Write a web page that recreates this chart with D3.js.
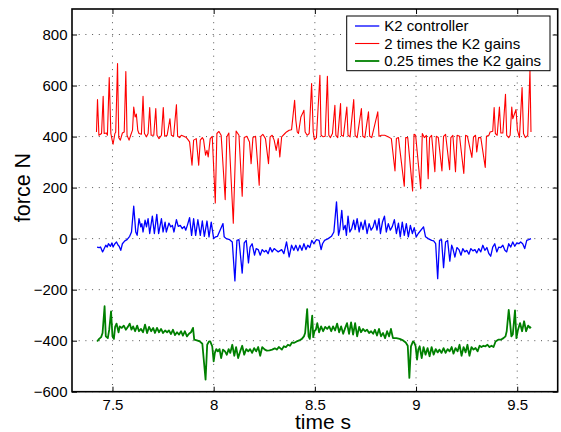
<!DOCTYPE html>
<html>
<head>
<meta charset="utf-8">
<script src="https://cdn.jsdelivr.net/npm/d3@7"></script>
<style>
  body { margin: 0; background: #fff; }
  svg { display: block; }
  text { font-family: "Liberation Sans", Arial, Helvetica, sans-serif; fill: #000; }
</style>
</head>
<body>
<svg id="chart" width="561" height="432"></svg>
<script>
// ---- data ----
const xTicks = [7.5, 8, 8.5, 9, 9.5];
const yTicks = [-600, -400, -200, 0, 200, 400, 600, 800];
const legendLabels = ["K2 controller", "2 times the K2 gains", "0.25 times the K2 gains"];

// K2 controller (blue)
const k2Time = [7.424,7.434,7.441,7.451,7.457,7.467,7.474,7.480,7.490,7.497,7.503,7.510,7.520,7.528,7.533,7.541,7.549,7.561,7.572,7.585,7.594,7.605,7.615,7.622,7.631,7.640,7.645,7.651,7.661,7.668,7.676,7.684,7.697,7.707,7.719,7.728,7.742,7.750,7.760,7.766,7.779,7.788,7.796,7.804,7.816,7.825,7.835,7.845,7.855,7.862,7.870,7.881,7.891,7.901,7.911,7.922,7.934,7.944,7.954,7.967,7.977,7.988,8.000,8.010,8.019,8.046,8.052,8.062,8.079,8.092,8.105,8.115,8.125,8.141,8.151,8.161,8.172,8.180,8.190,8.202,8.210,8.220,8.230,8.240,8.250,8.259,8.269,8.279,8.289,8.299,8.309,8.319,8.336,8.347,8.360,8.373,8.385,8.396,8.406,8.416,8.426,8.436,8.446,8.456,8.465,8.475,8.485,8.495,8.508,8.521,8.531,8.538,8.548,8.566,8.582,8.594,8.607,8.617,8.623,8.633,8.641,8.650,8.656,8.664,8.673,8.682,8.692,8.699,8.709,8.719,8.728,8.738,8.748,8.758,8.768,8.778,8.788,8.797,8.807,8.817,8.824,8.834,8.844,8.853,8.863,8.873,8.883,8.893,8.903,8.913,8.922,8.932,8.942,8.952,8.962,8.972,8.982,8.991,9.001,9.011,9.037,9.047,9.060,9.077,9.087,9.097,9.107,9.116,9.126,9.136,9.146,9.156,9.167,9.176,9.182,9.192,9.202,9.212,9.222,9.231,9.241,9.251,9.261,9.271,9.281,9.291,9.300,9.310,9.320,9.330,9.340,9.350,9.360,9.369,9.379,9.389,9.399,9.409,9.419,9.429,9.439,9.448,9.458,9.468,9.478,9.488,9.498,9.508,9.517,9.527,9.537,9.547,9.557,9.568];
const k2Force = [-33,-35,-33,-52,-43,-26,-33,-20,-30,-17,-33,-22,-13,-26,-30,-46,-20,-9,-4,9,26,127,26,13,78,46,59,26,72,46,78,20,88,20,95,20,78,26,65,26,61,46,52,26,74,48,52,39,48,33,52,82,13,78,13,74,13,69,9,69,7,65,0,7,9,59,7,0,-4,-13,-166,-7,-4,-135,-17,-7,-95,-33,-20,-65,-39,-43,-65,-43,-52,-46,-59,-35,-52,-39,-46,-52,-43,-59,-13,-72,-26,-46,-26,-48,-26,-46,-20,-43,-26,-35,-7,-20,-4,-7,-43,-20,-7,0,9,26,144,13,33,111,35,52,13,88,26,39,72,35,78,26,65,35,72,20,59,33,46,72,33,78,20,65,88,26,59,33,48,74,20,61,7,65,13,59,7,52,20,43,7,20,46,7,0,-7,-9,-20,-157,-7,-4,-114,-13,-7,-88,-26,-39,-72,-35,-43,-65,-39,-52,-46,-61,-39,-48,-43,-56,-39,-52,-26,-46,-35,-59,-69,-33,-20,-52,-33,-35,-26,-46,-52,-20,-33,-13,-30,-17,-20,-13,-20,-39,-7,-4,0];

// 2 times the K2 gains (red)
const k2x2Time = [7.421,7.426,7.433,7.446,7.454,7.459,7.470,7.475,7.484,7.492,7.498,7.503,7.512,7.516,7.525,7.531,7.539,7.549,7.558,7.566,7.572,7.582,7.590,7.599,7.605,7.612,7.618,7.625,7.631,7.643,7.651,7.658,7.668,7.676,7.684,7.691,7.704,7.714,7.720,7.730,7.742,7.751,7.758,7.770,7.784,7.791,7.802,7.816,7.822,7.832,7.840,7.852,7.865,7.873,7.881,7.893,7.901,7.914,7.926,7.934,7.944,7.950,7.960,7.967,7.973,7.983,7.993,8.008,8.016,8.026,8.037,8.057,8.065,8.075,8.097,8.111,8.125,8.141,8.151,8.164,8.177,8.185,8.194,8.207,8.225,8.233,8.243,8.256,8.271,8.279,8.289,8.299,8.309,8.319,8.327,8.336,8.352,8.360,8.373,8.385,8.400,8.406,8.413,8.419,8.431,8.439,8.446,8.452,8.462,8.472,8.484,8.492,8.498,8.508,8.525,8.531,8.541,8.551,8.562,8.569,8.577,8.587,8.599,8.604,8.613,8.627,8.631,8.641,8.658,8.664,8.674,8.692,8.699,8.709,8.730,8.737,8.747,8.765,8.771,8.781,8.811,8.817,8.829,8.845,8.862,8.878,8.896,8.903,8.913,8.942,8.949,8.959,8.983,8.990,8.998,9.023,9.031,9.041,9.051,9.060,9.067,9.077,9.093,9.100,9.110,9.128,9.136,9.146,9.166,9.172,9.182,9.195,9.203,9.215,9.236,9.245,9.254,9.276,9.284,9.294,9.300,9.309,9.320,9.342,9.348,9.360,9.366,9.379,9.386,9.392,9.401,9.412,9.419,9.429,9.442,9.448,9.458,9.465,9.473,9.478,9.494,9.501,9.511,9.524,9.531,9.540,9.552,9.563,9.568];
const k2x2Force = [418,545,405,412,558,412,414,405,631,412,388,370,412,417,686,396,386,414,418,655,405,386,405,425,516,477,488,425,412,409,558,412,399,412,514,405,405,510,405,392,405,514,401,405,470,405,401,525,401,396,405,401,396,388,379,288,386,392,288,386,396,388,327,346,320,392,401,140,412,420,405,153,399,414,60,422,405,166,396,401,379,294,396,401,209,401,409,392,294,399,405,386,346,392,320,399,412,418,425,427,542,464,418,412,477,490,503,418,405,412,608,418,388,396,640,405,399,401,636,405,396,412,523,405,396,529,405,401,516,405,399,545,405,396,510,401,396,497,401,396,497,401,405,405,399,392,265,392,396,205,396,396,187,409,405,196,412,396,405,235,396,405,262,401,396,265,401,409,270,396,405,262,405,401,255,405,401,318,399,405,340,396,396,279,401,405,418,421,514,412,405,516,414,414,566,405,396,405,516,470,506,425,396,592,412,396,405,660,418];

// 0.25 times the K2 gains (green)
const k2q4Time = [7.424,7.434,7.444,7.451,7.461,7.467,7.477,7.484,7.493,7.500,7.507,7.513,7.520,7.530,7.536,7.546,7.556,7.566,7.576,7.585,7.594,7.602,7.612,7.622,7.631,7.641,7.651,7.661,7.671,7.681,7.691,7.701,7.710,7.720,7.730,7.740,7.750,7.760,7.770,7.779,7.789,7.799,7.809,7.819,7.829,7.839,7.848,7.858,7.868,7.878,7.888,7.898,7.904,7.917,7.931,7.944,7.960,7.968,7.977,7.983,7.993,8.000,8.006,8.013,8.021,8.029,8.037,8.046,8.056,8.065,8.074,8.082,8.092,8.102,8.111,8.121,8.131,8.141,8.151,8.161,8.171,8.180,8.190,8.200,8.210,8.220,8.230,8.240,8.253,8.263,8.276,8.289,8.302,8.312,8.322,8.337,8.347,8.357,8.367,8.377,8.387,8.396,8.410,8.423,8.436,8.446,8.452,8.462,8.469,8.475,8.487,8.492,8.498,8.505,8.512,8.521,8.531,8.541,8.551,8.561,8.571,8.581,8.590,8.600,8.610,8.620,8.630,8.640,8.650,8.659,8.669,8.679,8.689,8.699,8.709,8.719,8.728,8.738,8.748,8.758,8.768,8.778,8.788,8.797,8.807,8.817,8.827,8.837,8.847,8.857,8.867,8.876,8.886,8.903,8.919,8.936,8.949,8.959,8.967,8.975,8.985,8.991,8.998,9.005,9.011,9.018,9.028,9.037,9.047,9.057,9.067,9.077,9.087,9.097,9.107,9.116,9.126,9.136,9.146,9.156,9.166,9.176,9.185,9.195,9.205,9.215,9.225,9.235,9.245,9.254,9.264,9.274,9.284,9.294,9.304,9.314,9.323,9.333,9.343,9.353,9.363,9.373,9.383,9.393,9.406,9.419,9.432,9.442,9.448,9.458,9.465,9.471,9.478,9.489,9.496,9.504,9.514,9.524,9.534,9.544,9.554,9.563,9.568];
const k2q4Force = [-403,-393,-386,-370,-265,-383,-390,-357,-285,-383,-393,-346,-333,-367,-344,-350,-341,-357,-346,-333,-357,-344,-363,-341,-363,-354,-367,-337,-370,-346,-363,-350,-370,-350,-367,-354,-370,-360,-367,-360,-374,-357,-378,-367,-376,-363,-380,-363,-383,-373,-367,-350,-396,-399,-403,-412,-553,-416,-403,-403,-422,-481,-448,-433,-442,-433,-468,-435,-442,-455,-433,-448,-416,-459,-425,-468,-442,-420,-455,-433,-442,-433,-448,-429,-442,-425,-459,-425,-435,-439,-438,-435,-430,-435,-425,-435,-422,-425,-416,-420,-407,-409,-403,-399,-393,-383,-370,-276,-383,-393,-302,-386,-363,-357,-331,-367,-344,-363,-346,-354,-344,-363,-344,-360,-333,-367,-344,-373,-350,-331,-373,-328,-376,-331,-383,-346,-367,-354,-363,-357,-370,-363,-373,-357,-380,-354,-383,-370,-390,-363,-383,-354,-390,-390,-393,-399,-407,-420,-546,-422,-403,-407,-422,-474,-435,-422,-468,-425,-455,-429,-461,-425,-455,-433,-446,-435,-448,-429,-448,-433,-442,-425,-451,-429,-442,-416,-459,-425,-446,-416,-459,-425,-435,-429,-442,-420,-425,-420,-422,-416,-425,-420,-425,-403,-396,-396,-390,-383,-363,-279,-331,-383,-376,-281,-390,-357,-331,-363,-324,-363,-341,-350,-346];

const series = [
  { name: legendLabels[0], time: k2Time, force: k2Force, color: "#0000ff", width: 1.3 },
  { name: legendLabels[1], time: k2x2Time, force: k2x2Force, color: "#ff0000", width: 1.1 },
  { name: legendLabels[2], time: k2q4Time, force: k2q4Force, color: "#008000", width: 1.8 }
];

// ---- layout ----
const margin = { left: 72, right: 3.3, top: 9, bottom: 40.3 };
const width = 561, height = 432;
const svg = d3.select("#chart");

const x = d3.scaleLinear().domain([7.3, 9.7]).range([margin.left, width - margin.right]);
const y = d3.scaleLinear().domain([-600, 900]).range([height - margin.bottom, margin.top]);
const [x0, x1] = x.range();
const [y0, y1] = y.range();

svg.append("rect").attr("width", width).attr("height", height).attr("fill", "#fff");

svg.append("defs").append("clipPath").attr("id", "plotArea")
  .append("rect").attr("x", x0).attr("y", y1).attr("width", x1 - x0).attr("height", y0 - y1);

// dotted grid
const grid = svg.append("g")
  .attr("stroke", "#555").attr("stroke-width", 1).attr("stroke-dasharray", "1,5.7");
grid.selectAll("line.gx").data(xTicks).join("line").attr("class", "gx")
  .attr("x1", d => x(d)).attr("x2", d => x(d)).attr("y1", y0).attr("y2", y1);
grid.selectAll("line.gy").data(yTicks).join("line").attr("class", "gy")
  .attr("y1", d => y(d)).attr("y2", d => y(d)).attr("x1", x0).attr("x2", x1);

// data lines
const plot = svg.append("g").attr("clip-path", "url(#plotArea)");
series.forEach(s => {
  const line = d3.line().x(i => x(s.time[i])).y(i => y(s.force[i]));
  plot.append("path")
    .attr("d", line(d3.range(s.time.length)))
    .attr("fill", "none")
    .attr("stroke", s.color)
    .attr("stroke-width", s.width)
    .attr("stroke-linejoin", "round");
});

// axes (MATLAB style: ticks inside on all four sides)
const fmtX = d3.format("~g");
const fmtY = d3.format("d");
const styleAxis = g => {
  g.select(".domain").remove();
  g.selectAll(".tick line").attr("stroke", "#000").attr("stroke-width", 1);
  g.selectAll(".tick text").attr("font-size", 15).attr("fill", "#000")
    .attr("font-family", '"Liberation Sans", Arial, sans-serif');
};
svg.append("g").attr("transform", `translate(0,${y0})`)
  .call(d3.axisBottom(x).tickValues(xTicks).tickFormat(fmtX).tickSizeInner(-5).tickSizeOuter(0).tickPadding(7.5))
  .call(styleAxis);
svg.append("g").attr("transform", `translate(0,${y1})`)
  .call(d3.axisTop(x).tickValues(xTicks).tickFormat("").tickSizeInner(-5).tickSizeOuter(0))
  .call(styleAxis);
svg.append("g").attr("transform", `translate(${x0},0)`)
  .call(d3.axisLeft(y).tickValues(yTicks).tickFormat(fmtY).tickSizeInner(-5).tickSizeOuter(0).tickPadding(4.5))
  .call(styleAxis);
svg.append("g").attr("transform", `translate(${x1},0)`)
  .call(d3.axisRight(y).tickValues(yTicks).tickFormat("").tickSizeInner(-5).tickSizeOuter(0))
  .call(styleAxis);

// box
svg.append("rect")
  .attr("x", x0).attr("y", y1).attr("width", x1 - x0).attr("height", y0 - y1)
  .attr("fill", "none").attr("stroke", "#000").attr("stroke-width", 1.6);

// axis labels
svg.append("text")
  .attr("x", 323).attr("y", 429)
  .attr("text-anchor", "middle").attr("font-size", 21)
  .text("time s");
svg.append("text")
  .attr("transform", "translate(30,187.5) rotate(-90)")
  .attr("text-anchor", "middle").attr("font-size", 21.5)
  .text("force N");

// legend
const legend = svg.append("g").attr("transform", "translate(346.7,16)");
legend.append("rect")
  .attr("width", 203.3).attr("height", 54.7)
  .attr("fill", "#fff").attr("stroke", "#000").attr("stroke-width", 1);
const rowY = d3.scalePoint().domain(legendLabels).range([10, 45]);
series.forEach(s => {
  const yy = rowY(s.name);
  legend.append("line")
    .attr("x1", 8.3).attr("x2", 32.6).attr("y1", yy).attr("y2", yy)
    .attr("stroke", s.color).attr("stroke-width", s.width);
  legend.append("text")
    .attr("x", 37.6).attr("y", yy + 5.3)
    .attr("font-size", 15)
    .text(s.name);
});
</script>
</body>
</html>
